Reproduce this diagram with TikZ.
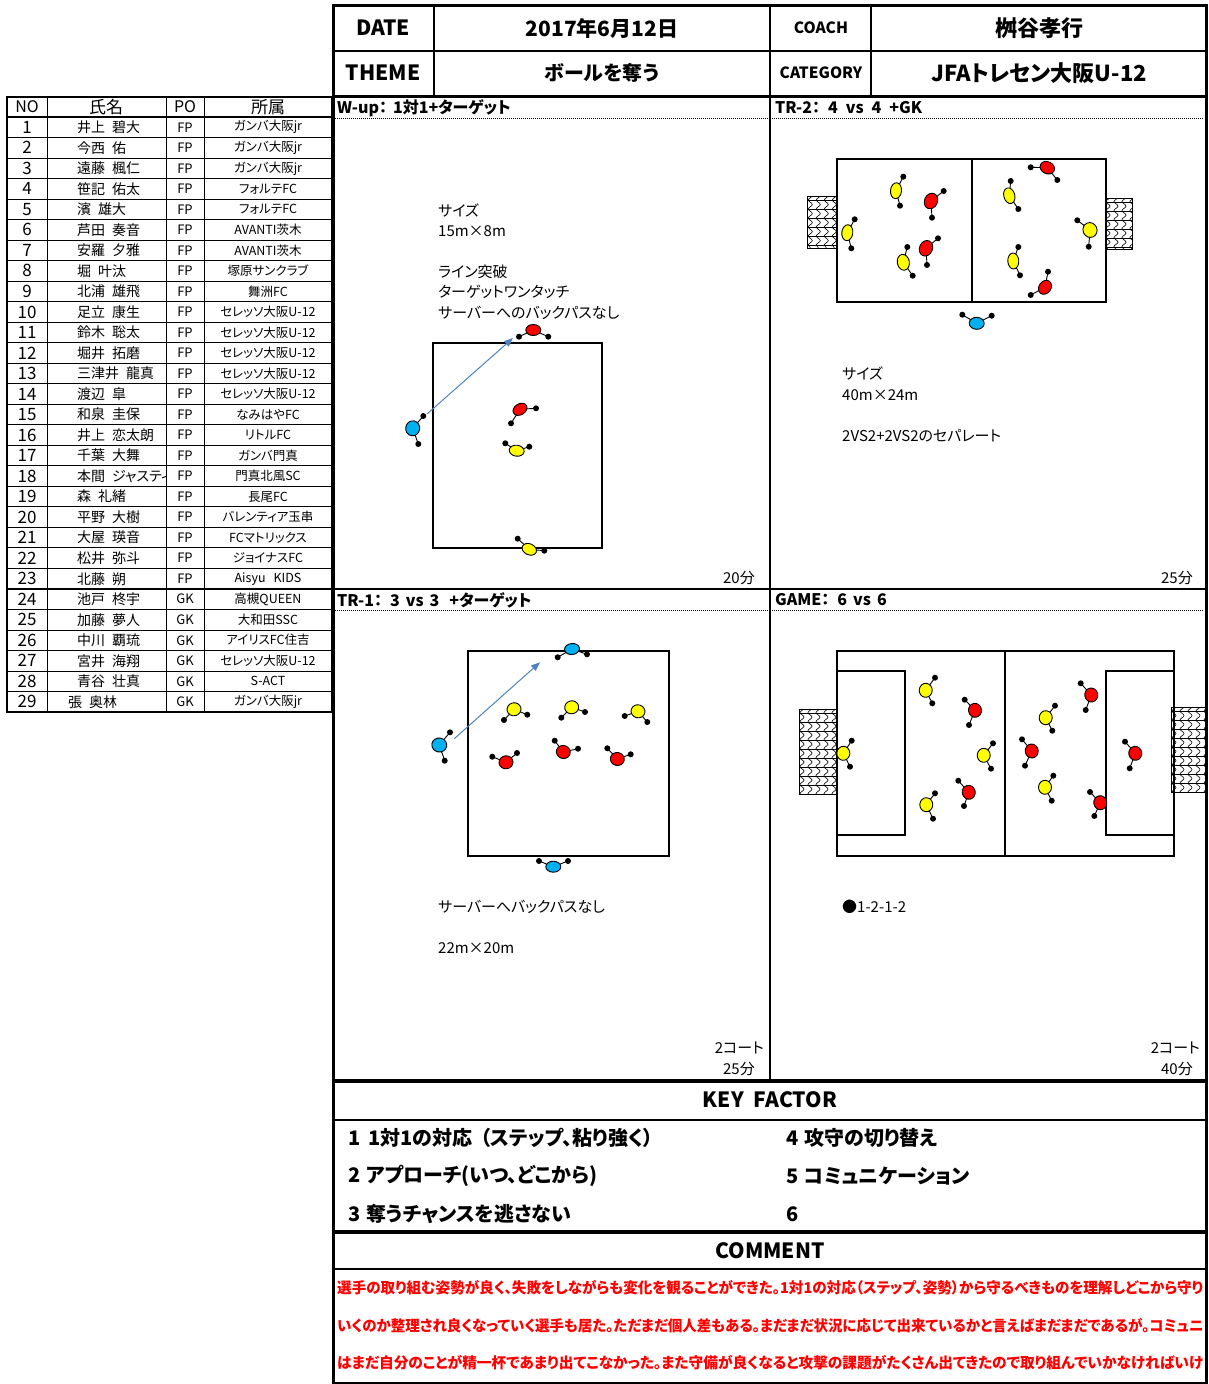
\documentclass[tikz,border=0pt]{standalone}
\usepackage{graphicx}
\usepackage{fontspec}
\setmainfont{Noto Sans CJK JP}[RawFeature=+palt]
\usetikzlibrary{arrows.meta,decorations.pathmorphing}
\newcommand\fs[1]{\fontsize{#1}{#1}\selectfont}
\newcommand\nmgap{\hspace{7pt}}
\newcommand\fitline[1]{\resizebox{866pt}{\height}{#1}}
\definecolor{pred}{RGB}{255,0,0}
\definecolor{pyel}{RGB}{255,255,0}
\definecolor{pblu}{RGB}{0,176,240}
\definecolor{arw}{RGB}{79,129,189}
% player: [radii]{cx}{cy}{colour}{h1x}{h1y}{h2x}{h2y}
\newcommand\plr[8][7.5 and 5.5]{%
  \pgfmathsetmacro\pang{atan2((#6)-(#8),(#7)-(#5))}%
  \draw[line width=0.9pt] (#5,#6) -- (#2,#3) -- (#7,#8);
  \fill (#5,#6) circle (3) (#7,#8) circle (3);
  \draw[line width=0.9pt, fill=#4, rotate around={\pang:(#2,#3)}] (#2,#3) ellipse (#1);
}
% goal net: {x1}{y1}{x2}{y2}
\newcommand\goal[4]{%
  \fill[white] (#1,#2) rectangle (#3,#4);
  \begin{scope}
    \clip (#1,#2) rectangle (#3,#4);
    \foreach \k in {0,...,6} {
      \draw[line width=0.6pt, decorate, decoration={snake, amplitude=2pt, segment length=9pt}]
        ({#1+3+\k*8},{#2-4}) -- ({#1+3+\k*8},{#4+4});
    }
    \foreach \k in {0,...,12} {
      \draw[line width=0.5pt] ({#1},{#2+4+\k*9}) -- ({#3},{#2+4+\k*9});
    }
  \end{scope}
  \draw[line width=1pt] (#1,#2) rectangle (#3,#4);
}
\begin{document}
\begin{tikzpicture}[x=1pt,y=-1pt,
  tl/.style={line width=1.3pt},
  tk/.style={line width=3pt},
  fld/.style={line width=1.8pt},
  dotl/.style={line width=0.8pt, dash pattern=on 1pt off 1pt},
  hd/.style={inner sep=0pt, font={\fs{21}\bfseries}},
  hds/.style={inner sep=0pt, font={\fs{15.5}\bfseries}},
  ptitle/.style={inner sep=0pt, anchor=west, font={\fs{16}\bfseries}},
  ptxt/.style={inner sep=0pt, anchor=west, font={\fs{15}}},
  rtxt/.style={inner sep=0pt, anchor=east, font={\fs{15}}},
  kf/.style={inner sep=0pt, anchor=west, font={\fs{20}\bfseries}},
  cmt/.style={inner sep=0pt, anchor=west, text=pred, font={\fs{15}\bfseries}},
  cell/.style={inner sep=0pt},
  parrow/.style={draw=arw, line width=1pt, -{Triangle[length=9pt,width=7pt]}}]
\useasboundingbox (0,0) rectangle (1208,1384);

% ---------------- roster table ----------------
\foreach \i in {1,...,28} {
  \draw[line width=0.9pt] (7,{117+\i*20.52}) -- (332,{117+\i*20.52});
}
\draw[line width=2pt] (7,{117+23*20.52}) -- (332,{117+23*20.52});
\draw[line width=1.2pt] (7,117) -- (332,117);
\draw[line width=1pt] (47,97) -- (47,712) (166,97) -- (166,712) (204,97) -- (204,712);
\draw[line width=1.6pt] (7,97) rectangle (332,712);
\node[cell, font={\fs{16}}] (hno) at (27,107) {NO};
\node[cell, font={\fs{17}}] (hnm) at (106,107) {氏名};
\node[cell, font={\fs{16}}] (hpo) at (185,107) {PO};
\node[cell, font={\fs{17}}] (hcl) at (268,107) {所属};
\foreach \nx/\nm/\po/\cl [count=\i] in {
 77/井上\nmgap 碧大/FP/ガンバ大阪jr,
 77/今西\nmgap 佑/FP/ガンバ大阪jr,
 77/遠藤\nmgap 楓仁/FP/ガンバ大阪jr,
 77/笹記\nmgap 佑太/FP/フォルテFC,
 77/濱\nmgap 雄大/FP/フォルテFC,
 77/芦田\nmgap 奏音/FP/AVANTI茨木,
 77/安羅\nmgap 夕雅/FP/AVANTI茨木,
 77/堀\nmgap 叶汰/FP/塚原サンクラブ,
 77/北浦\nmgap 雄飛/FP/舞洲FC,
 77/足立\nmgap 康生/FP/セレッソ大阪U-12,
 77/鈴木\nmgap 聡太/FP/セレッソ大阪U-12,
 77/堀井\nmgap 拓磨/FP/セレッソ大阪U-12,
 77/三津井\nmgap 龍真/FP/セレッソ大阪U-12,
 77/渡辺\nmgap 皐/FP/セレッソ大阪U-12,
 77/和泉\nmgap 圭保/FP/なみはやFC,
 77/井上\nmgap 恋太朗/FP/リトルFC,
 77/千葉\nmgap 大舞/FP/ガンバ門真,
 77/本間\nmgap ジャスティ/FP/門真北風SC,
 77/森\nmgap 礼緒/FP/長尾FC,
 77/平野\nmgap 大樹/FP/バレンティア玉串,
 77/大屋\nmgap 瑛音/FP/FCマトリックス,
 77/松井\nmgap 弥斗/FP/ジョイナスFC,
 77/北藤\nmgap 朔/FP/Aisyu\hspace{8pt}KIDS,
 77/池戸\nmgap 柊宇/GK/高槻QUEEN,
 77/加藤\nmgap 夢人/GK/大和田SSC,
 77/中川\nmgap 覇琉/GK/アイリスFC住吉,
 77/宮井\nmgap 海翔/GK/セレッソ大阪U-12,
 77/青谷\nmgap 壮真/GK/S-ACT,
 68/張\nmgap 奥林/GK/ガンバ大阪jr} {
  \pgfmathsetmacro\yy{117+(\i-0.5)*20.52}
  \node[cell, font={\fs{17}}] (no\i) at (27,\yy) {\i};
  \begin{scope}
    \clip (47,{\yy-10}) rectangle (165,{\yy+10});
    \node[cell, anchor=west, font={\fs{14}}] (nm\i) at (\nx,\yy) {\nm};
  \end{scope}
  \node[cell, font={\fs{13}}] (po\i) at (185,\yy) {\po};
  \node[cell, font={\fs{12.5}}] (cl\i) at (268,\yy) {\cl};
}

% ---------------- frame & header ----------------
\draw[tl] (333,51) -- (1206,51);
\draw[tl] (434,5) -- (434,96) (770,5) -- (770,96) (871,5) -- (871,96);
\draw[line width=2pt] (770,96) -- (770,1081);
\draw[tl] (333,589) -- (1206,589);
\draw[dotl] (335,118) -- (768,118) (772,118) -- (1204,118);
\draw[dotl] (335,610) -- (768,610) (772,610) -- (1204,610);
\draw[line width=2pt] (333,1120) -- (1206,1120);
\draw[line width=2pt] (333,1269) -- (1206,1269);
\draw[tk] (333,96) -- (1206,96);
\draw[line width=3.5pt] (333,1081) -- (1206,1081);
\draw[line width=4pt] (333,1232) -- (1206,1232);
\draw[tk] (333,5) rectangle (1206,1383);

\node[hd] (date) at (383,28) {DATE};
\node[hd] (dval) at (602,28) {2017年6月12日};
\node[hds] (coach) at (821,28) {COACH};
\node[hd, font={\fs{22}\bfseries}] (cval) at (1039,28) {桝谷孝行};
\node[hd] (theme) at (383,73) {THEME};
\node[hd, font={\fs{20}\bfseries}] (tval) at (602,73) {ボールを奪う};
\node[hds] (cat) at (821,73) {CATEGORY};
\node[hd, font={\fs{22}\bfseries}] (catv) at (1039,73) {JFAトレセン大阪U-12};

% ---------------- panel titles ----------------
\node[ptitle] (t1) at (337,108) {W-up：\hspace{6pt}1対1+ターゲット};
\node[ptitle] (t2) at (775,108) {TR-2：\hspace{8pt}4\hspace{8pt}vs\hspace{8pt}4\hspace{8pt}+GK};
\node[ptitle] (t3) at (337,600) {TR-1：\hspace{8pt}3\hspace{6pt}vs\hspace{6pt}3\hspace{10pt}+ターゲット};
\node[ptitle] (t4) at (775,600) {GAME：\hspace{8pt}6\hspace{6pt}vs\hspace{6pt}6};

% ---------------- W-up ----------------
\node[ptxt] (w1) at (438,210) {サイズ};
\node[ptxt] (w2) at (438,231) {15m×8m};
\node[ptxt] (w3) at (438,272) {ライン突破};
\node[ptxt] (w4) at (438,292) {ターゲットワンタッチ};
\node[ptxt] (w5) at (438,313) {サーバーへのバックパスなし};
\draw[fld] (433.3,342.7) rectangle (602.3,547.7);
\coordinate (wa1) at (427,414);
\coordinate (wa2) at (513,338);
\draw[parrow] (wa1) -- (wa2);
\plr{533.3}{330}{pred}{519}{336.7}{548.3}{336.7}
\plr[7.5 and 7]{412.7}{428.3}{pblu}{423.3}{416}{418.3}{444}
\plr{520}{409.3}{pred}{536}{408.3}{511}{423.3}
\plr{516.7}{450.7}{pyel}{505.3}{443.3}{529.3}{446.7}
\plr{529.3}{549.3}{pyel}{517.7}{538.7}{544.3}{550.7}
\node[rtxt] (wt) at (755,578) {20分};

% ---------------- TR-2 ----------------
\goal{807.3}{196.7}{836.7}{248.3}
\goal{1105}{198.3}{1132.3}{249.3}
\draw[fld] (836.7,159) rectangle (1106,302.3);
\draw[fld] (971.7,159) -- (971.7,302.3);
\plr[8 and 5.5]{896}{190.7}{pyel}{903.3}{176.7}{900}{205.7}
\plr[8 and 6.5]{931}{201}{pred}{943.7}{191}{932}{217.7}
\plr[8 and 5.5]{847.3}{232.7}{pyel}{854.7}{219.3}{851.3}{248.3}
\plr[8 and 6.5]{926}{248.3}{pred}{938}{238.3}{927}{265}
\plr[8 and 6]{903.3}{262.3}{pyel}{907.3}{247}{912.7}{275.7}
\plr[7.5 and 6]{1047.3}{167.7}{pred}{1030.7}{167.3}{1057.3}{180}
\plr[8 and 5.5]{1009.3}{195.7}{pyel}{1010.7}{181}{1018.3}{209}
\plr[7.5 and 7]{1090}{230}{pyel}{1077.3}{220.3}{1088.7}{246.7}
\plr[8 and 5.5]{1013.3}{261}{pyel}{1018.3}{247}{1020}{275.3}
\plr[7.5 and 6]{1045}{287.3}{pred}{1048}{271.7}{1030.7}{295}
\plr[7.5 and 6]{976.7}{323.3}{pblu}{962.3}{314.7}{991.7}{315.7}
\node[ptxt] (r1) at (842,373) {サイズ};
\node[ptxt] (r2) at (842,395) {40m×24m};
\node[ptxt] (r3) at (842,436) {2VS2+2VS2のセパレート};
\node[rtxt] (rt) at (1193,578) {25分};

% ---------------- TR-1 ----------------
\draw[fld] (467.7,651) rectangle (669.3,856);
\coordinate (ta1) at (454.3,738.7);
\coordinate (ta2) at (540,662.3);
\draw[parrow] (ta1) -- (ta2);
\plr[7.5 and 5.5]{572}{649}{pblu}{557.7}{657.3}{587}{654.3}
\plr[7 and 7.5]{439.3}{745}{pblu}{450}{732.3}{444.7}{760.7}
\plr[7.5 and 5.5]{553.3}{866.7}{pblu}{539}{861}{568}{861}
\plr[7 and 6.5]{514}{709.3}{pyel}{504}{720}{527.3}{714.7}
\plr[7 and 6.5]{571.7}{707.3}{pyel}{561.3}{717.7}{585}{712}
\plr[7 and 6.5]{638}{711.3}{pyel}{624.7}{716}{647.3}{722}
\plr[7 and 6.5]{506}{762.3}{pred}{492.3}{756.7}{517}{753}
\plr[7 and 6.5]{563.3}{752}{pred}{554.7}{740.7}{578}{748.7}
\plr[7 and 6.5]{617.3}{759}{pred}{607.3}{748.3}{630.7}{754.3}
\node[ptxt] (s1) at (438,907) {サーバーへバックパスなし};
\node[ptxt] (s2) at (438,948) {22m×20m};
\node[rtxt] (s3) at (764,1048) {2コート};
\node[rtxt] (s4) at (755,1069) {25分};

% ---------------- GAME ----------------
\goal{799}{709.3}{836.7}{794.3}
\goal{1171}{707.7}{1205}{792.7}
\draw[fld] (836.7,651) rectangle (1174,856);
\draw[fld] (1004.7,651) -- (1004.7,856);
\draw[fld] (836.7,671) -- (905,671) -- (905,835) -- (836.7,835);
\draw[fld] (1174,671) -- (1105.7,671) -- (1105.7,835) -- (1174,835);
\plr[7 and 6.5]{843.3}{753.3}{pyel}{851.7}{740.7}{850}{766.7}
\plr[7 and 6.5]{925.7}{690.3}{pyel}{935}{677.7}{932.3}{703.3}
\plr[7 and 6.5]{975}{710.3}{pred}{964.7}{699.7}{969}{725}
\plr[7 and 6.5]{983.7}{755.3}{pyel}{993}{743.3}{991}{768.7}
\plr[7 and 6.5]{926.3}{804.7}{pyel}{935}{793.3}{933}{818.7}
\plr[7 and 6.5]{968.7}{792.3}{pred}{958.3}{780.7}{964}{806}
\plr[7 and 6.5]{1031.7}{751}{pred}{1022}{739.3}{1025}{765.7}
\plr[7 and 6.5]{1045.7}{717.7}{pyel}{1055}{705.7}{1052.3}{730.7}
\plr[7 and 6.5]{1045}{787.3}{pyel}{1053.3}{775.7}{1051.7}{800.7}
\plr[7 and 6.5]{1091.3}{695}{pred}{1080.7}{683.3}{1085.7}{710}
\plr[7 and 6.5]{1135.3}{753.3}{pred}{1125}{741.7}{1129.7}{768.3}
\plr[7 and 6.5]{1100.3}{802.7}{pred}{1090}{792}{1094.3}{816}
\node[ptxt] (g1) at (842,907) {●1-2-1-2};
\node[rtxt] (g2) at (1200,1048) {2コート};
\node[rtxt] (g3) at (1193,1069) {40分};

% ---------------- key factor ----------------
\node[hd, font={\fs{21}\bfseries}] (kft) at (770,1100) {KEY\hspace{10pt}FACTOR};
\node[kf] (k1) at (348,1138) {1\hspace{8pt}1対1の対応\hspace{8pt}（ステップ、粘り強く）};
\node[kf] (k2) at (348,1176) {2\hspace{6pt}アプローチ(いつ、どこから)};
\node[kf] (k3) at (348,1214) {3\hspace{6pt}奪うチャンスを逃さない};
\node[kf] (k4) at (786,1138) {4\hspace{6pt}攻守の切り替え};
\node[kf] (k5) at (786,1176) {5\hspace{6pt}コミュニケーション};
\node[kf] (k6) at (786,1214) {6};
\node[hd, font={\fs{21}\bfseries}] (cmtt) at (770,1251) {COMMENT};

% ---------------- comment ----------------
\node[cmt] (c1) at (337,1288) {\fitline{選手の取り組む姿勢が良く、失敗をしながらも変化を観ることができた。1対1の対応（ステップ、姿勢）から守るべきものを理解しどこから守り}};
\node[cmt] (c2) at (337,1326) {\fitline{いくのか整理され良くなっていく選手も居た。ただまだ個人差もある。まだまだ状況に応じて出来ているかと言えばまだまだであるが。コミュニ}};
\node[cmt] (c3) at (337,1363) {\fitline{はまだ自分のことが精一杯であまり出てこなかった。また守備が良くなると攻撃の課題がたくさん出てきたので取り組んでいかなければいけ}};
\end{tikzpicture}
\end{document}
